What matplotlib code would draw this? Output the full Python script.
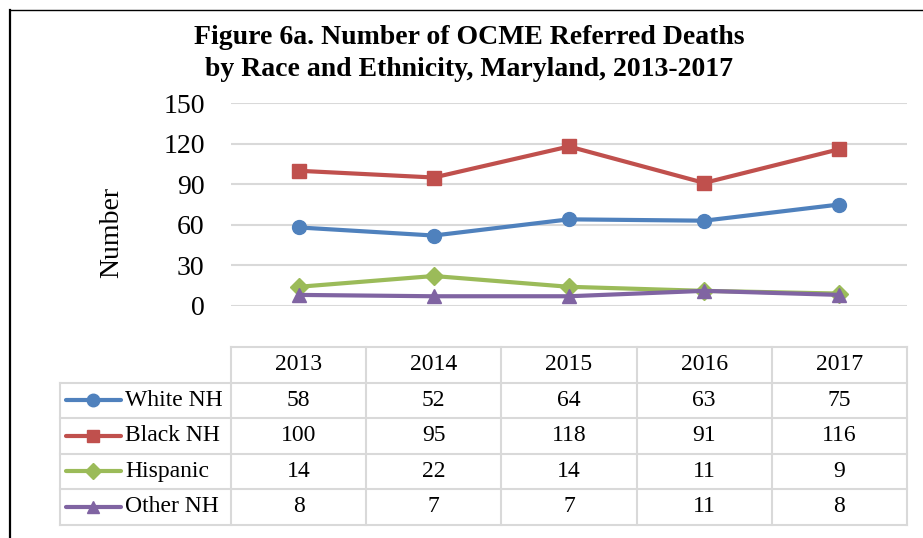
import matplotlib
matplotlib.use("Agg")
import matplotlib.pyplot as plt
from matplotlib.lines import Line2D

years = ["2013", "2014", "2015", "2016", "2017"]
series_names = ["White NH", "Black NH", "Hispanic", "Other NH"]
white_nh = [58, 52, 64, 63, 75]
black_nh = [100, 95, 118, 91, 116]
hispanic = [14, 22, 14, 11, 9]
other_nh = [8, 7, 7, 11, 8]
yticks = [0, 30, 60, 90, 120, 150]

values = [white_nh, black_nh, hispanic, other_nh]
colors = ["#4F81BD", "#C0504D", "#9BBB59", "#8064A2"]
markers = ["o", "s", "D", "^"]
msizes = [10, 10, 9, 10]

W, H = 923, 538
plt.rcParams["font.family"] = ["Liberation Serif", "DejaVu Serif"]

fig = plt.figure(figsize=(W / 100, H / 100), dpi=100)

def fx(px):
    return px / W

def fy(py):
    return 1 - py / H

# outer frame (top + left)
fig.add_artist(Line2D([fx(10), 1.0], [fy(9.5), fy(9.5)], color="black", lw=1.0))
fig.add_artist(Line2D([fx(10), fx(10)], [fy(9.5), 0.0], color="black", lw=1.6))

# title
fig.text(fx(469), fy(38), "Figure 6a. Number of OCME Referred Deaths",
         ha="center", va="center", fontsize=20, fontweight="bold")
fig.text(fx(469), fy(70), "by Race and Ethnicity, Maryland, 2013-2017",
         ha="center", va="center", fontsize=20, fontweight="bold")

# main plot axes
x_left, x_right = 231, 907
y_top, y_bot = 103.3, 305.7
ax = fig.add_axes([fx(x_left), fy(y_bot), (x_right - x_left) / W, (y_bot - y_top) / H])
xpos = list(range(len(years)))
ax.set_xlim(-0.5, len(years) - 0.5)
ax.set_ylim(0, 150)
for s in ax.spines.values():
    s.set_visible(False)
ax.set_yticks(yticks)
ax.set_yticklabels([str(t) for t in yticks], fontsize=20)
ax.tick_params(axis="y", length=0, pad=19)
ax.set_xticks([])
ax.yaxis.grid(True, color="#D9D9D9", lw=1.5)
ax.set_axisbelow(True)
for vals, c, m, ms in zip(values, colors, markers, msizes):
    ax.plot(xpos, vals, color=c, lw=3, marker=m, markersize=ms, clip_on=False,
            zorder=3)

fig.text(fx(112), fy(232), "Number", rotation=90, ha="center", va="center",
         fontsize=20)

# data table
tab_left = 60
col_w = (x_right - x_left) / len(years)
row_top = 347
row_h = (524.5 - 347) / 5
grid_c = "#D9D9D9"
glw = 1.5

def hline(y, x0, x1):
    fig.add_artist(Line2D([fx(x0), fx(x1)], [fy(y), fy(y)], color=grid_c, lw=glw))

def vline(x, y0, y1):
    fig.add_artist(Line2D([fx(x), fx(x)], [fy(y0), fy(y1)], color=grid_c, lw=glw))

hline(row_top, x_left, x_right)
for r in range(1, 6):
    hline(row_top + r * row_h, tab_left, x_right)
vline(tab_left, row_top + row_h, row_top + 5 * row_h)
for cidx in range(len(years) + 1):
    vline(x_left + cidx * col_w, row_top, row_top + 5 * row_h)

for cidx, yr in enumerate(years):
    fig.text(fx(x_left + (cidx + 0.5) * col_w), fy(row_top + 0.5 * row_h), yr,
             ha="center", va="center", fontsize=17)

for r, (name, vals, c, m, ms) in enumerate(zip(series_names, values, colors, markers, msizes)):
    yc = row_top + (r + 1.5) * row_h
    fig.add_artist(Line2D([fx(66), fx(121)], [fy(yc), fy(yc)], color=c, lw=3,
                          solid_capstyle="round"))
    fig.add_artist(Line2D([fx(93)], [fy(yc)], color=c, marker=m, markersize=ms - 1,
                          lw=0))
    fig.text(fx(125), fy(yc), name, ha="left", va="center", fontsize=17)
    for cidx, v in enumerate(vals):
        fig.text(fx(x_left + (cidx + 0.5) * col_w), fy(yc), str(v),
                 ha="center", va="center", fontsize=17)

fig.savefig("out.png", dpi=100)
